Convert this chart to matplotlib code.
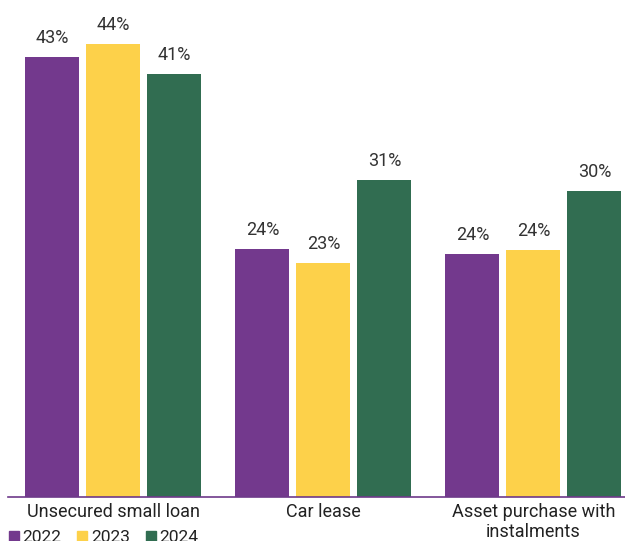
import matplotlib
matplotlib.use("Agg")
import matplotlib.pyplot as plt
from matplotlib.lines import Line2D
import numpy as np

categories = ["Unsecured small loan", "Car lease", "Asset purchase with\ninstalments"]
years = ["2022", "2023", "2024"]
v2022 = [42.7, 24.1, 23.6]
v2023 = [44.0, 22.7, 24.0]
v2024 = [41.1, 30.8, 29.7]
colors = ["#73398D", "#FDD14A", "#316D51"]

plt.rcParams['font.family'] = ['Roboto', 'DejaVu Sans']

fig = plt.figure(figsize=(6.25, 5.41), dpi=100)
ax = fig.add_axes([8/625, 44/541, 617/625, 497/541])

x = np.arange(len(categories))
w = 54/210
off = 61/210
series = [v2022, v2023, v2024]
for i, (vals, c) in enumerate(zip(series, colors)):
    bars = ax.bar(x + (i-1)*off, vals, width=w, color=c, edgecolor='none')
    for b, v in zip(bars, vals):
        ax.text(b.get_x() + b.get_width()/2, v + 0.95, f"{v:.0f}%", ha='center', va='bottom',
                fontsize=13, color='#333333')

ax.set_xlim(-0.502, 2.436)
ax.set_ylim(0, 497/10.3)
ax.set_xticks(x)
ax.set_xticklabels(categories, fontsize=13, color='#222222', linespacing=1.2)
ax.tick_params(axis='x', length=0, pad=4)
ax.set_yticks([])
for s in ['top', 'right', 'left']:
    ax.spines[s].set_visible(False)
ax.spines['bottom'].set_color('#6E3A8A')
ax.spines['bottom'].set_linewidth(1.2)

handles = [Line2D([], [], marker='s', linestyle='none', markersize=7, color=c) for c in colors]
fig.legend(handles, years, loc='lower left', bbox_to_anchor=(0.0, -0.02), ncol=3, frameon=False,
           fontsize=12.5, handletextpad=0.1, columnspacing=0.8, handlelength=0.8, borderaxespad=0,
           labelcolor='#222222')

fig.savefig("out.png", dpi=100)
